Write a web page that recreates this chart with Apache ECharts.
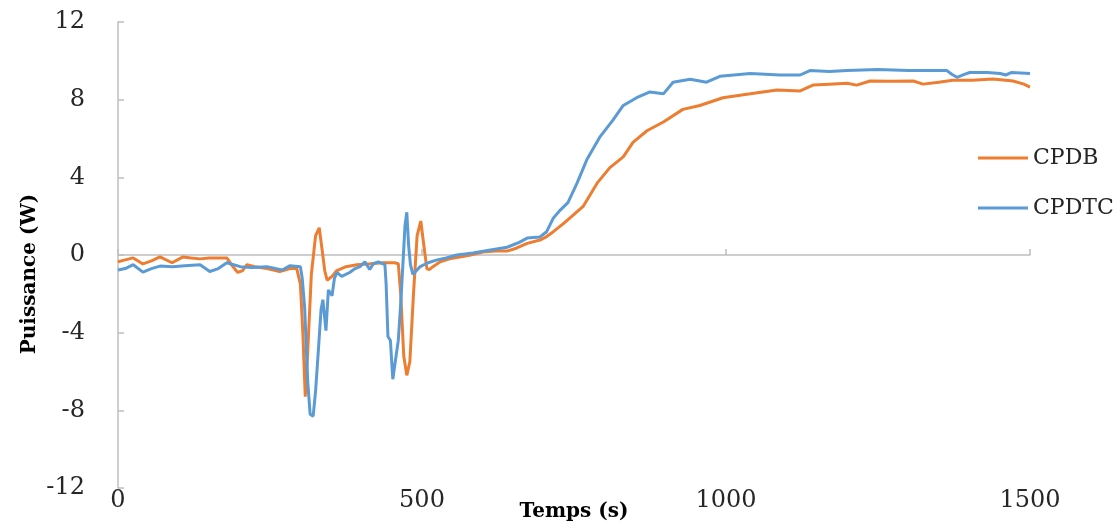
<!DOCTYPE html>
<html>
<head>
<meta charset="utf-8">
<script src="https://cdn.jsdelivr.net/npm/echarts@6/dist/echarts.min.js"></script>
<style>
  html, body { margin: 0; padding: 0; background: #fff; }
  #main { width: 1119px; height: 527px; }
</style>
</head>
<body>
<div id="main"></div>
<script>
// temps (s) et puissance (W)
var cpdbT = [0, 12, 25, 41, 55, 69, 89, 107, 120, 135, 150, 165, 179, 189, 197, 205, 212, 225, 245, 266, 283, 294,
  300, 304, 308, 312, 318, 325, 331, 336, 340, 344, 352, 360, 375, 393, 415, 436, 455, 461,
  465, 470, 475, 480, 486, 492, 498, 503, 508, 512, 518, 530, 545, 562, 580, 600, 620, 640, 655, 673, 694,
  705, 716, 732, 743, 765, 788, 809, 831, 847, 870, 897, 929, 957, 995, 1040, 1084, 1122, 1143, 1170, 1199,
  1215, 1237, 1270, 1308, 1324, 1350, 1373, 1405, 1439, 1460, 1472, 1490, 1500];
var cpdbV = [-0.35, -0.25, -0.15, -0.46, -0.3, -0.1, -0.4, -0.1, -0.15, -0.2, -0.15, -0.15, -0.15, -0.6, -0.9, -0.8, -0.5, -0.6, -0.7, -0.85, -0.7, -0.7,
  -1.5, -4, -7.3, -5, -1, 1.0, 1.4, 0.2, -0.8, -1.3, -1.1, -0.8, -0.6, -0.5, -0.45, -0.4, -0.4, -0.45,
  -2, -5.2, -6.2, -5.5, -2, 1, 1.75, 0.5, -0.7, -0.75, -0.6, -0.35, -0.2, -0.1, 0, 0.15, 0.2, 0.2, 0.35, 0.6, 0.77,
  0.95, 1.2, 1.6, 1.9, 2.5, 3.7, 4.5, 5.05, 5.8, 6.4, 6.85, 7.5, 7.7, 8.1, 8.3, 8.5, 8.45, 8.75, 8.8, 8.85,
  8.75, 8.96, 8.95, 8.96, 8.8, 8.9, 9.0, 9.0, 9.06, 9.0, 8.96, 8.8, 8.65];

var cpdtcT = [0, 12, 25, 41, 55, 69, 90, 110, 135, 151, 165, 179, 201, 220, 245, 270, 283, 300,
  303, 307, 312, 316, 321, 325, 330, 334, 337, 342, 346, 352, 356, 360, 368, 381, 390, 398, 406, 414, 420, 428, 439,
  441, 444, 448, 452, 456, 461, 465, 469, 472, 475, 478, 481, 485, 491, 497, 510, 525, 540, 557, 584, 610, 640, 660,
  673, 694, 705, 716, 727, 740, 755, 771, 793, 814, 831, 853, 875, 897, 913, 941, 968, 990, 1040, 1089, 1122,
  1138, 1170, 1199, 1250, 1300, 1340, 1363, 1372, 1380, 1392, 1401, 1430, 1451, 1460, 1470, 1500];
var cpdtcV = [-0.77, -0.7, -0.5, -0.88, -0.7, -0.57, -0.6, -0.55, -0.5, -0.85, -0.7, -0.4, -0.6, -0.65, -0.6, -0.77, -0.55, -0.6,
  -1.2, -2.7, -6.5, -8.2, -8.3, -7, -4.7, -2.8, -2.3, -3.9, -1.8, -2.1, -1.2, -0.9, -1.1, -0.9, -0.7, -0.6, -0.35, -0.75, -0.45, -0.35, -0.5,
  -1.5, -4.2, -4.4, -6.4, -5.5, -4.4, -2.5, -0.25, 1.5, 2.2, 0.5, -0.5, -1.0, -0.8, -0.6, -0.4, -0.25, -0.15, 0, 0.1, 0.25, 0.4, 0.65,
  0.87, 0.93, 1.2, 1.9, 2.3, 2.7, 3.7, 4.9, 6.1, 6.95, 7.7, 8.1, 8.4, 8.3, 8.9, 9.05, 8.9, 9.2, 9.35, 9.27, 9.27,
  9.5, 9.45, 9.5, 9.55, 9.5, 9.5, 9.5, 9.3, 9.15, 9.3, 9.4, 9.4, 9.35, 9.27, 9.4, 9.35];

function pairs(t, v) {
  return t.map(function (x, i) { return [x, v[i]]; });
}

var serif = 'DejaVu Serif';
var chart = echarts.init(document.getElementById('main'));
var option = {
  animation: false,
  grid: { left: 118, right: 89, top: 22, bottom: 39, containLabel: false },
  legend: {
    orient: 'vertical',
    left: 973,
    top: 142,
    icon: 'rect',
    itemWidth: 50,
    itemHeight: 3,
    itemGap: 28,
    textStyle: { fontFamily: serif, fontSize: 22, color: '#262626' },
    data: ['CPDB', 'CPDTC']
  },
  xAxis: {
    type: 'value',
    min: 0, max: 1500, interval: 500,
    axisLine: { onZero: true, lineStyle: { color: '#BFBFBF', width: 1.5 } },
    axisTick: { show: true, inside: true, length: 6, lineStyle: { color: '#BFBFBF', width: 1.5 } },
    axisLabel: {
      fontFamily: serif, fontSize: 24, color: '#262626', margin: 1,
      formatter: function (v) { return String(v); }
    },
    splitLine: { show: false }
  },
  yAxis: {
    type: 'value',
    min: -12, max: 12, interval: 4,
    axisLine: { show: true, lineStyle: { color: '#BFBFBF', width: 1.5 } },
    axisTick: { show: true, inside: true, length: 6, lineStyle: { color: '#BFBFBF', width: 1.5 } },
    axisLabel: { fontFamily: serif, fontSize: 24, color: '#262626', margin: 33 },
    splitLine: { show: false }
  },
  graphic: [
    {
      type: 'text', x: 30, y: 274, rotation: Math.PI / 2,
      style: { text: 'Puissance (W)', font: 'bold 20px "DejaVu Serif"', fill: '#000', align: 'center', verticalAlign: 'middle' }
    },
    {
      type: 'text', x: 574, y: 512,
      style: { text: 'Temps (s)', font: 'bold 20px "DejaVu Serif"', fill: '#000', align: 'center', verticalAlign: 'middle' }
    }
  ],
  series: [
    {
      name: 'CPDB', type: 'line', symbol: 'none',
      lineStyle: { color: '#ED7D31', width: 3 }, itemStyle: { color: '#ED7D31' },
      data: pairs(cpdbT, cpdbV)
    },
    {
      name: 'CPDTC', type: 'line', symbol: 'none',
      lineStyle: { color: '#5B9BD5', width: 3 }, itemStyle: { color: '#5B9BD5' },
      data: pairs(cpdtcT, cpdtcV)
    }
  ]
};
chart.setOption(option);
</script>
</body>
</html>
